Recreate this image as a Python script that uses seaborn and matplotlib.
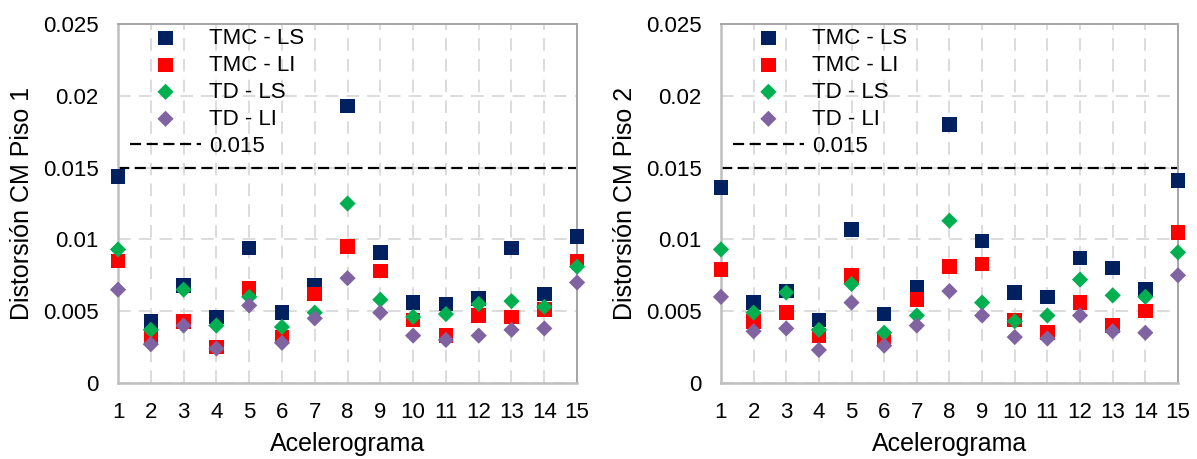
import numpy as np
import pandas as pd
import matplotlib
matplotlib.use("Agg")
import matplotlib.pyplot as plt
import seaborn as sns

# Data
acelerogramas = list(range(1, 16))
series_names = ["TMC - LS", "TMC - LI", "TD - LS", "TD - LI"]

piso1_tmc_ls = [0.0144, 0.0043, 0.0068, 0.0046, 0.0094, 0.0049, 0.0068, 0.0193, 0.0091, 0.0056, 0.0055, 0.0059, 0.0094, 0.0062, 0.0102]
piso1_tmc_li = [0.0085, 0.0032, 0.0043, 0.0025, 0.0066, 0.0032, 0.0062, 0.0095, 0.0078, 0.0044, 0.0033, 0.0047, 0.0046, 0.0051, 0.0085]
piso1_td_ls = [0.0093, 0.0037, 0.0065, 0.0040, 0.0060, 0.0039, 0.0049, 0.0125, 0.0058, 0.0046, 0.0048, 0.0055, 0.0057, 0.0053, 0.0081]
piso1_td_li = [0.0065, 0.0027, 0.0040, 0.0024, 0.0054, 0.0028, 0.0045, 0.0073, 0.0049, 0.0033, 0.0030, 0.0033, 0.0037, 0.0038, 0.0070]

piso2_tmc_ls = [0.0136, 0.0056, 0.0064, 0.0044, 0.0107, 0.0048, 0.0067, 0.0180, 0.0099, 0.0063, 0.0060, 0.0087, 0.0080, 0.0065, 0.0141]
piso2_tmc_li = [0.0079, 0.0043, 0.0049, 0.0033, 0.0075, 0.0030, 0.0058, 0.0081, 0.0083, 0.0044, 0.0035, 0.0056, 0.0040, 0.0050, 0.0105]
piso2_td_ls = [0.0093, 0.0049, 0.0063, 0.0037, 0.0069, 0.0035, 0.0047, 0.0113, 0.0056, 0.0043, 0.0047, 0.0072, 0.0061, 0.0060, 0.0091]
piso2_td_li = [0.0060, 0.0036, 0.0038, 0.0023, 0.0056, 0.0026, 0.0040, 0.0064, 0.0047, 0.0032, 0.0031, 0.0047, 0.0036, 0.0035, 0.0075]

limite = 0.015
y_ticks = [0, 0.005, 0.01, 0.015, 0.02, 0.025]
y_tick_labels = ["0", "0.005", "0.01", "0.015", "0.02", "0.025"]

colors = {"TMC - LS": "#002060", "TMC - LI": "#FF0000", "TD - LS": "#00B050", "TD - LI": "#8064A2"}
markers = {"TMC - LS": "s", "TMC - LI": "s", "TD - LS": "D", "TD - LI": "D"}
sizes = {"s": 110, "D": 68}

sns.set_style("white")
plt.rcParams["font.family"] = ["Liberation Sans", "DejaVu Sans"]
plt.rcParams["text.color"] = "black"
plt.rcParams["axes.labelcolor"] = "black"
plt.rcParams["xtick.color"] = "black"
plt.rcParams["ytick.color"] = "black"

fig = plt.figure(figsize=(11.97, 4.59), dpi=100)
ax1 = fig.add_axes([0.0986, 0.1656, 0.3835, 0.782])
ax2 = fig.add_axes([0.6023, 0.1656, 0.3818, 0.782])

panels = [
    (ax1, [piso1_tmc_ls, piso1_tmc_li, piso1_td_ls, piso1_td_li], "Distorsión CM Piso 1"),
    (ax2, [piso2_tmc_ls, piso2_tmc_li, piso2_td_ls, piso2_td_li], "Distorsión CM Piso 2"),
]

for ax, values, ylabel in panels:
    df = pd.DataFrame({"Acelerograma": acelerogramas})
    for name, vals in zip(series_names, values):
        df[name] = vals
    long = df.melt(id_vars="Acelerograma", var_name="Serie", value_name="Distorsion")

    ax.set_axisbelow(True)
    ax.grid(True, color="#D9D9D9", linestyle=(0, (7, 4.5)), linewidth=1.3)

    for name in series_names:
        sub = long[long["Serie"] == name]
        sns.scatterplot(data=sub, x="Acelerograma", y="Distorsion", ax=ax,
                        marker=markers[name], color=colors[name],
                        s=sizes[markers[name]], edgecolor="none",
                        clip_on=False, zorder=3, label=name, legend=False)
    ax.axhline(limite, color="black", linestyle=(0, (5, 2.5)), linewidth=1.6,
               zorder=2, label="0.015")

    ax.set_xlim(1, 15)
    ax.set_ylim(0, 0.025)
    ax.set_xticks(acelerogramas)
    ax.set_yticks(y_ticks)
    ax.set_yticklabels(y_tick_labels)
    ax.tick_params(axis="both", length=0, labelsize=16)
    ax.tick_params(axis="y", pad=14)
    ax.tick_params(axis="x", pad=14)
    ax.set_xlabel("Acelerograma", fontsize=18, labelpad=6)
    ax.set_ylabel(ylabel, fontsize=18, labelpad=6)

    for side in ["left", "bottom"]:
        ax.spines[side].set_color("#BFBFBF")
        ax.spines[side].set_linewidth(1.8)
    for side in ["top", "right"]:
        ax.spines[side].set_color("#A6A6A6")
        ax.spines[side].set_linewidth(1.4)

    h, l = ax.get_legend_handles_labels()
    ax.legend(h, l, loc="upper left", bbox_to_anchor=(0.026, 0.99), frameon=False,
              fontsize=16, borderpad=0, borderaxespad=0, labelspacing=0.27,
              handlelength=3.2, handletextpad=0.35, scatterpoints=1)

fig.savefig("out.png", dpi=100)
